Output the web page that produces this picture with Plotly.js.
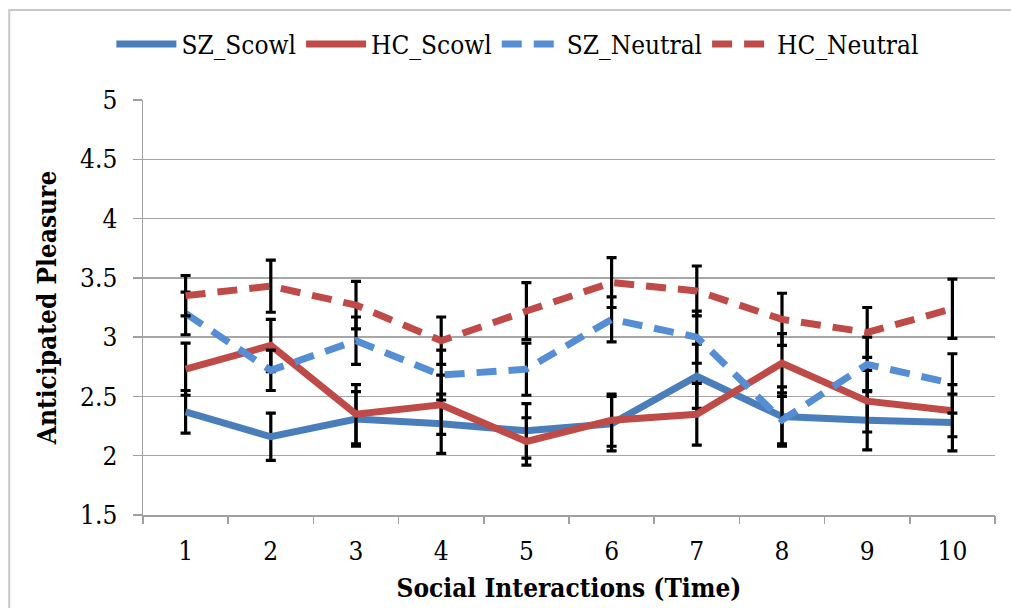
<!DOCTYPE html>
<html>
<head>
<meta charset="utf-8">
<script src="https://cdn.plot.ly/plotly-3.0.1.min.js"></script>
<style>html,body{margin:0;padding:0;background:#fff;}#chart{width:1011px;height:608px;}</style>
</head>
<body>
<div id="chart"></div>
<script>
const timePoints = [1, 2, 3, 4, 5, 6, 7, 8, 9, 10];
const tickLabels = ["1", "2", "3", "4", "5", "6", "7", "8", "9", "10"];

const szScowl = [2.37, 2.16, 2.31, 2.27, 2.21, 2.27, 2.67, 2.33, 2.30, 2.28];
const szScowlErr = [0.18, 0.20, 0.23, 0.25, 0.23, 0.23, 0.27, 0.25, 0.25, 0.24];
const hcScowl = [2.73, 2.93, 2.35, 2.43, 2.12, 2.30, 2.35, 2.78, 2.46, 2.38];
const hcScowlErr = [0.22, 0.22, 0.25, 0.25, 0.20, 0.22, 0.26, 0.25, 0.26, 0.22];
const szNeutral = [3.20, 2.72, 2.97, 2.68, 2.73, 3.15, 3.00, 2.30, 2.77, 2.61];
const szNeutralErr = [0.18, 0.17, 0.20, 0.21, 0.22, 0.19, 0.22, 0.20, 0.23, 0.25];
const hcNeutral = [3.35, 3.43, 3.27, 2.97, 3.22, 3.46, 3.39, 3.15, 3.04, 3.24];
const hcNeutralErr = [0.17, 0.22, 0.20, 0.20, 0.24, 0.21, 0.21, 0.22, 0.21, 0.25];

const FONT = 'DejaVu Serif Condensed, DejaVu Serif, serif';

function mk(name, y, err, color, dash) {
  return {
    type: 'scatter', mode: 'lines', name: name,
    x: timePoints, y: y,
    line: {color: color, width: 7, dash: dash},
    error_y: {type: 'data', array: err, visible: true, color: '#000000', thickness: 3.2, width: 5}
  };
}

const traces = [
  mk('SZ_Scowl', szScowl, szScowlErr, '#4A7EBB', 'solid'),
  mk('HC_Scowl', hcScowl, hcScowlErr, '#BE4B48', 'solid'),
  mk('SZ_Neutral', szNeutral, szNeutralErr, '#558ED5', '20px,12px'),
  mk('HC_Neutral', hcNeutral, hcNeutralErr, '#BE4B48', '20px,12px')
];

// invisible helper trace for category-boundary tick marks
const bounds = [];
for (let i = 0; i <= timePoints.length; i++) bounds.push(i + 0.5);
traces.push({type: 'scatter', mode: 'none', x: [bounds[0]], y: [1.5], xaxis: 'x2', showlegend: false, hoverinfo: 'skip'});

const layout = {
  width: 1011, height: 608,
  margin: {l: 143, r: 16, t: 100, b: 93},
  paper_bgcolor: '#ffffff', plot_bgcolor: '#ffffff',
  font: {family: FONT, size: 26, color: '#000000'},
  showlegend: true,
  legend: {
    orientation: 'h', x: 0.44, xanchor: 'center', y: 1.135, yanchor: 'middle',
    font: {family: FONT, size: 26, color: '#000000'},
    itemwidth: 60, bgcolor: 'rgba(0,0,0,0)'
  },
  xaxis: {
    range: [0.5, 10.5], tickmode: 'array', tickvals: timePoints, ticktext: tickLabels,
    ticks: '', showgrid: false, zeroline: false,
    showline: true, linecolor: '#a0a0a0', linewidth: 1.5,
    tickfont: {family: FONT, size: 26}, ticklabelstandoff: 12,
    title: {text: '<b>Social Interactions (Time)</b>', font: {family: FONT, size: 26}, standoff: 14}
  },
  xaxis2: {
    overlaying: 'x', range: [0.5, 10.5], tickmode: 'array', tickvals: bounds,
    ticks: 'outside', ticklen: 8, tickwidth: 1.5, tickcolor: '#a0a0a0',
    showticklabels: false, showgrid: false, zeroline: false, showline: false, side: 'bottom'
  },
  yaxis: {
    range: [1.5, 5], dtick: 0.5, tick0: 1.5,
    ticks: 'outside', ticklen: 9, tickwidth: 1.5, tickcolor: '#a0a0a0',
    showgrid: true, gridcolor: '#a6a6a6', gridwidth: 1.5, zeroline: false,
    showline: true, linecolor: '#a0a0a0', linewidth: 1.5,
    tickfont: {family: FONT, size: 26}, ticklabelstandoff: 10,
    title: {text: '<b>Anticipated Pleasure</b>', font: {family: FONT, size: 26}, standoff: 16}
  },
  shapes: [{
    type: 'rect', xref: 'paper', yref: 'paper',
    x0: -0.157, x1: 1.2, y0: -0.5, y1: 1.217,
    line: {color: '#c8c8c8', width: 2}, fillcolor: 'rgba(0,0,0,0)', layer: 'below'
  }]
};

Plotly.newPlot('chart', traces, layout, {staticPlot: true, displayModeBar: false});
</script>
</body>
</html>
